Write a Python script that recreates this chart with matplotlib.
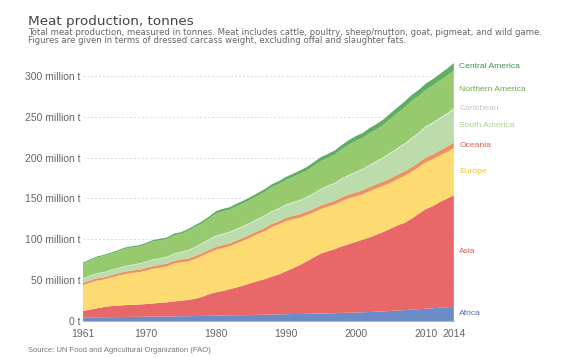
import matplotlib
matplotlib.use("Agg")
import matplotlib.pyplot as plt
import numpy as np

plt.rcParams["font.family"] = ["Liberation Sans", "DejaVu Sans"]

years = list(range(1961, 2015))

# million tonnes
africa = [4.3, 4.4, 4.5, 4.6, 4.7, 4.8, 4.9, 5.0, 5.1, 5.2,
          5.3, 5.4, 5.4, 5.6, 5.8, 5.9, 6.0, 6.2, 6.4, 6.6,
          6.8, 7.0, 7.1, 7.1, 7.3, 7.5, 7.7, 7.9, 8.1, 8.3,
          8.5, 8.6, 8.7, 8.9, 9.1, 9.4, 9.6, 9.9, 10.1, 10.4,
          10.7, 11.0, 11.4, 11.8, 12.3, 12.8, 13.3, 13.9, 14.4, 15.0,
          15.6, 16.2, 16.8, 17.4]
asia = [8.0, 9.5, 11.0, 12.5, 13.5, 14.0, 14.5, 14.8, 15.1, 15.5,
        16.1, 16.8, 17.5, 18.3, 19.0, 19.8, 21.2, 23.3, 26.3, 28.5,
        30.0, 32.0, 34.0, 36.5, 39.0, 41.5, 43.5, 46.5, 49.0, 52.5,
        56.0, 60.0, 64.5, 69.0, 73.5, 76.0, 78.5, 81.5, 84.0, 86.5,
        89.0, 91.5, 94.5, 97.5, 101.0, 104.5, 107.0, 111.5, 117.0, 122.0,
        125.0, 129.5, 133.0, 136.5]
europe = [31.5, 33.0, 34.0, 33.5, 35.0, 36.5, 38.0, 39.0, 39.5, 41.0,
          42.5, 43.0, 44.0, 46.5, 47.0, 47.0, 48.5, 50.0, 51.0, 52.0,
          52.5, 52.5, 54.0, 55.0, 56.0, 57.5, 59.0, 60.5, 61.0, 61.5,
          60.0, 58.0, 56.5, 55.0, 54.5, 54.5, 54.5, 55.5, 56.0, 55.5,
          55.5, 56.5, 56.5, 56.5, 56.0, 56.5, 57.5, 57.5, 57.0, 57.5,
          57.5, 57.0, 57.0, 58.0]
oceania = [2.6, 2.7, 2.8, 2.8, 2.9, 2.9, 3.0, 3.0, 3.1, 3.2,
           3.3, 3.4, 3.3, 3.2, 3.5, 3.7, 3.8, 3.6, 3.5, 3.6,
           3.6, 3.7, 3.6, 3.6, 3.7, 3.8, 3.9, 4.0, 4.0, 4.1,
           4.2, 4.2, 4.3, 4.4, 4.4, 4.5, 4.6, 4.7, 4.8, 5.0,
           5.1, 5.2, 5.2, 5.3, 5.4, 5.6, 5.7, 5.6, 5.6, 5.8,
           5.9, 6.1, 6.5, 6.8]
south_america = [5.5, 5.6, 5.8, 5.9, 6.0, 6.2, 6.4, 6.6, 6.9, 7.2,
                 7.4, 7.5, 7.8, 8.2, 8.8, 9.6, 10.4, 11.2, 12.0, 12.8,
                 13.1, 13.3, 13.4, 13.6, 13.8, 14.1, 14.4, 14.6, 14.9, 15.3,
                 15.8, 16.4, 17.2, 18.2, 19.3, 20.3, 21.0, 21.8, 22.9, 24.0,
                 25.0, 26.0, 27.3, 28.8, 30.4, 31.6, 32.8, 34.6, 35.6, 36.8,
                 37.8, 38.6, 39.4, 40.2]
caribbean = [0.50, 0.52, 0.54, 0.56, 0.58, 0.60, 0.62, 0.64, 0.66, 0.68,
             0.70, 0.72, 0.74, 0.77, 0.80, 0.83, 0.86, 0.89, 0.92, 0.95,
             0.98, 1.00, 1.02, 1.04, 1.05, 1.06, 1.07, 1.08, 1.09, 1.10,
             1.08, 1.06, 1.04, 1.02, 1.05, 1.08, 1.10, 1.13, 1.16, 1.20,
             1.22, 1.25, 1.28, 1.30, 1.32, 1.36, 1.40, 1.42, 1.44, 1.46,
             1.48, 1.50, 1.52, 1.55]
northern_america = [18.0, 18.3, 19.0, 19.8, 19.6, 20.2, 21.0, 21.0, 20.8, 21.0,
                    22.0, 22.0, 21.4, 22.2, 21.6, 23.4, 24.0, 24.2, 25.0, 27.2,
                    27.4, 26.8, 27.6, 27.6, 28.0, 28.0, 28.6, 29.4, 29.6, 29.8,
                    30.6, 31.8, 32.0, 33.4, 34.0, 34.0, 34.6, 35.8, 37.0, 38.0,
                    37.8, 38.8, 38.8, 39.4, 41.5, 42.5, 44.0, 45.0, 44.5, 44.5,
                    45.0, 45.5, 46.0, 46.5]
central_america = [1.2, 1.25, 1.3, 1.35, 1.4, 1.45, 1.5, 1.55, 1.6, 1.7,
                   1.8, 1.9, 2.0, 2.1, 2.2, 2.3, 2.4, 2.5, 2.65, 2.8,
                   2.95, 3.05, 3.1, 3.15, 3.2, 3.3, 3.4, 3.5, 3.6, 3.8,
                   4.0, 4.2, 4.4, 4.6, 4.7, 4.8, 5.0, 5.2, 5.5, 5.8,
                   6.0, 6.2, 6.4, 6.6, 6.8, 7.0, 7.2, 7.4, 7.5, 7.7,
                   7.9, 8.2, 8.5, 8.8]

regions = ["Africa", "Asia", "Europe", "Oceania", "South America",
           "Caribbean", "Northern America", "Central America"]
series = [africa, asia, europe, oceania, south_america, caribbean,
          northern_america, central_america]
fill_colors = ["#6b8cc7", "#e8686a", "#fddb72", "#ee9161", "#bcdcab",
               "#d6e8cf", "#97c96f", "#5fae62"]
label_colors = ["#4f6bab", "#e0585b", "#f2c53d", "#e0604a", "#a8d08d",
                "#c8c8c8", "#6aaa4c", "#3f8f52"]

fig = plt.figure(figsize=(5.68, 3.58), dpi=100)
ax = fig.add_axes([0.146, 0.1034, 0.653, 0.730])

ax.stackplot(years, *series, colors=fill_colors, linewidth=0)

ax.set_xlim(1961, 2014)
ax.set_ylim(0, 320)
yt = [0, 50, 100, 150, 200, 250, 300]
ax.set_yticks(yt)
ax.set_yticklabels(["0 t"] + [f"{v} million t" for v in yt[1:]])
xt = [1961, 1970, 1980, 1990, 2000, 2010, 2014]
ax.set_xticks(xt)
ax.set_xticklabels([str(v) for v in xt])
ax.tick_params(length=0, colors="#666666", labelsize=7.5)
ax.tick_params(axis="x", pad=6)
ax.tick_params(axis="y", pad=2)
ax.grid(axis="y", color="#dddddd", linestyle=(0, (2, 2)), linewidth=0.7)
ax.set_axisbelow(True)
for side in ["top", "right", "left"]:
    ax.spines[side].set_visible(False)
ax.spines["bottom"].set_color("#aaaaaa")
ax.spines["bottom"].set_linewidth(0.6)

# labels at the right end, centred on each band
tops = np.cumsum([s[-1] for s in series])
for i, name in enumerate(regions):
    mid = tops[i] - series[i][-1] / 2
    ax.annotate(name, xy=(2014, mid), xytext=(4, 0), textcoords="offset points",
                va="center", ha="left", fontsize=6.1, color=label_colors[i],
                annotation_clip=False)

fig.text(0.049, 1 - 25.5 / 358, "Meat production, tonnes", fontsize=9.7,
         color="#444444", va="baseline", family="DejaVu Sans")
fig.text(0.049, 1 - 35 / 358,
         "Total meat production, measured in tonnes. Meat includes cattle, poultry, "
         "sheep/mutton, goat, pigmeat, and wild game.",
         fontsize=6.1, color="#666666", va="baseline", family="DejaVu Sans")
fig.text(0.049, 1 - 43 / 358,
         "Figures are given in terms of dressed carcass weight, excluding offal and "
         "slaughter fats.",
         fontsize=6.1, color="#666666", va="baseline", family="DejaVu Sans")
fig.text(0.049, 0.017, "Source: UN Food and Agricultural Organization (FAO)",
         fontsize=5.5, color="#777777", va="baseline")

fig.savefig("out.png", dpi=100)
